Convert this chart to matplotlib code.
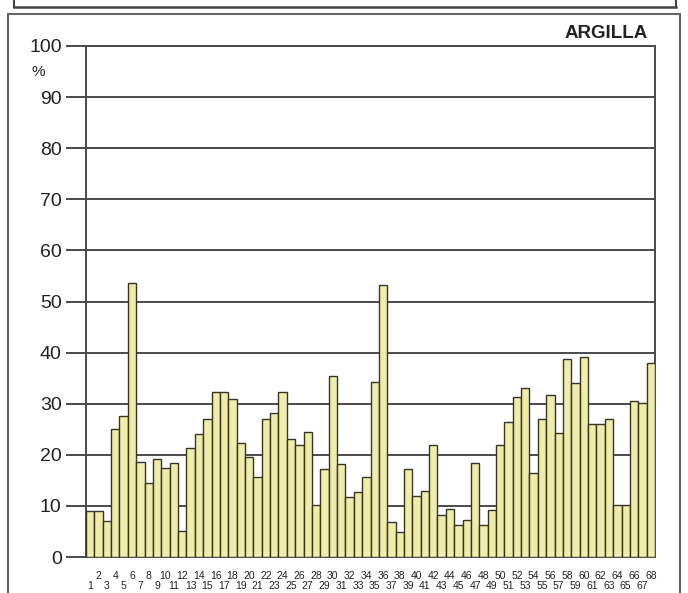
import matplotlib.pyplot as plt
import numpy as np
from matplotlib.patches import Rectangle
from matplotlib.lines import Line2D

# Clay percentage per sample
samples = list(range(1, 69))
argilla = [
    9, 9, 7, 25, 27.5, 53.7, 18.6, 14.5, 19.2, 17.5,
    18.4, 5.1, 21.4, 24, 27, 32.3, 32.3, 31, 22.4, 19.6,
    15.7, 27, 28.2, 32.3, 23, 22, 24.5, 10.2, 17.3, 35.5,
    18.2, 11.7, 12.7, 15.7, 34.2, 53.3, 6.8, 4.8, 17.2, 12,
    13, 22, 8.3, 9.4, 6.3, 7.3, 18.4, 6.3, 9.2, 22,
    26.5, 31.4, 33, 16.5, 27, 31.8, 24.3, 38.8, 34, 39.2,
    26, 26, 27, 10.2, 10.2, 30.6, 30.2, 38,
]
yticks = list(range(0, 101, 10))


def main():
    plt.rcParams.update(
        {
            "font.family": ["Liberation Sans", "DejaVu Sans"],
        }
    )

    W, H = 688, 593
    fig = plt.figure(figsize=(W / 100, H / 100), dpi=100)
    fig.patch.set_facecolor("white")

    ax = fig.add_axes([86 / W, 1 - 557 / H, (655 - 86) / W, (557 - 46) / H])

    x = np.arange(len(samples))
    ax.bar(
        x,
        argilla,
        width=1.0,
        color="#f0eda8",
        edgecolor="#35352a",
        linewidth=1.0,
        zorder=3,
    )

    ax.set_xlim(-0.5, len(samples) - 0.5)
    ax.set_ylim(0, 100)
    ax.set_yticks(yticks)
    ax.set_yticklabels([str(v) for v in yticks], fontsize=14, color="#222222")
    ax.yaxis.grid(True, color="#4a4a4a", linewidth=1.4, zorder=0)
    ax.tick_params(axis="y", length=14.5, width=1.4, color="#4a4a4a", pad=3)

    # even numbers on the upper row, odd numbers on the lower row
    ax.set_xticks(x)
    ax.set_xticklabels([str(s) for s in samples], fontsize=7.5, color="#222222")
    ax.tick_params(axis="x", length=0, pad=10)
    for tick, s in zip(ax.xaxis.get_major_ticks(), samples):
        if s % 2 == 1:
            tick.set_pad(17.5)

    for side in ["left", "right", "top", "bottom"]:
        ax.spines[side].set_color("#4a4a4a")
        ax.spines[side].set_linewidth(1.4)

    fig.text(648 / W, 1 - 34 / H, "ARGILLA", ha="right", va="center",
             fontsize=13.5, fontweight="bold", color="#222222")
    fig.text(38 / W, 1 - 72 / H, "%", ha="center", va="center",
             fontsize=11, color="#222222")

    # scanned page frame
    fig.patches.append(
        Rectangle((8 / W, -0.01), (680 - 8) / W, 1 - 14 / H + 0.01,
                  transform=fig.transFigure, fill=False,
                  edgecolor="#666666", linewidth=1.5)
    )
    fig.lines.append(
        Line2D([14 / W, 676 / W], [1 - 7 / H, 1 - 7 / H],
               transform=fig.transFigure, color="#444444", linewidth=1.8)
    )
    fig.lines.append(
        Line2D([14 / W, 14 / W], [1 - 7 / H, 1], transform=fig.transFigure,
               color="#444444", linewidth=1.5)
    )
    fig.lines.append(
        Line2D([676 / W, 676 / W], [1 - 7 / H, 1], transform=fig.transFigure,
               color="#444444", linewidth=1.5)
    )

    fig.savefig("out.png", dpi=100, facecolor="white")


if __name__ == "__main__":
    main()
